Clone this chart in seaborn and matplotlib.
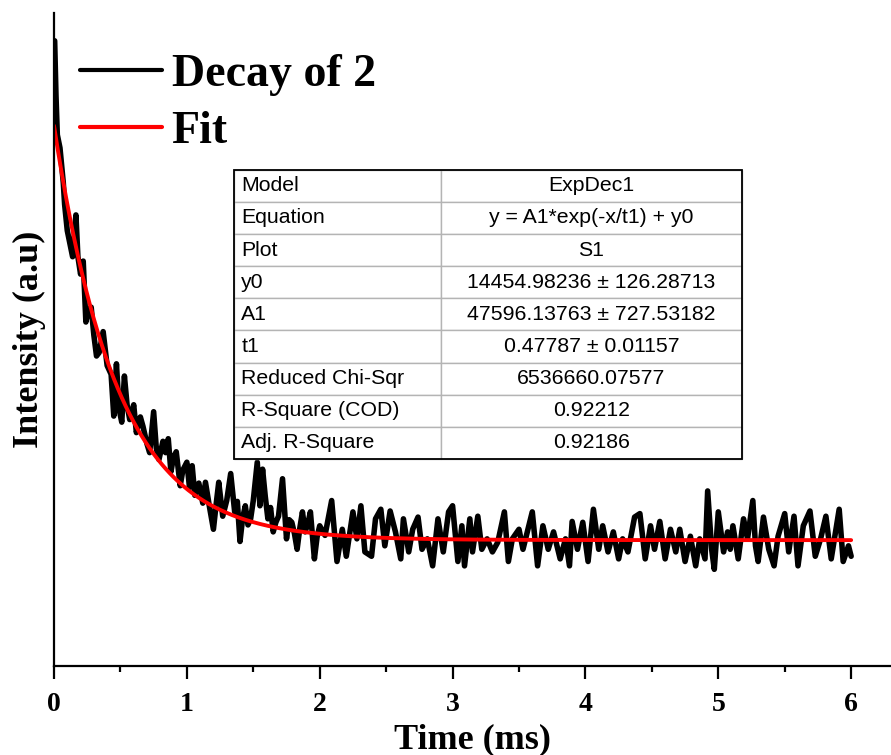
import numpy as np
import pandas as pd
import seaborn as sns
import matplotlib.pyplot as plt
from matplotlib.patches import Rectangle
from matplotlib.ticker import MultipleLocator

# Measured luminescence decay (time in ms, intensity in arbitrary units)
time_ms = [
    0.005, 0.015, 0.025, 0.045, 0.07, 0.08, 0.10, 0.12, 0.14, 0.165, 0.18, 0.20,
    0.22, 0.24, 0.26, 0.28, 0.30, 0.32, 0.34, 0.37, 0.40, 0.43, 0.45, 0.47, 0.49,
    0.51, 0.53, 0.55, 0.57, 0.60, 0.62, 0.65, 0.67, 0.70, 0.72, 0.75, 0.77, 0.79,
    0.82, 0.84, 0.86, 0.88, 0.90, 0.92, 0.95, 0.97, 1.00,
    1.02, 1.04, 1.06, 1.09, 1.12, 1.14, 1.17, 1.20, 1.22, 1.24, 1.27, 1.30, 1.33,
    1.36, 1.38, 1.40, 1.42, 1.44, 1.46, 1.48, 1.50, 1.53, 1.55, 1.57, 1.59, 1.61,
    1.63, 1.65, 1.67, 1.69, 1.72, 1.75, 1.77, 1.79, 1.81, 1.83, 1.85, 1.87, 1.89,
    1.91, 1.93, 1.96, 1.98, 2.00,
    2.04, 2.09, 2.13, 2.17, 2.20, 2.25, 2.28, 2.31, 2.34, 2.39, 2.42, 2.46, 2.49,
    2.53, 2.57, 2.61, 2.63, 2.67, 2.70, 2.74, 2.77, 2.81, 2.85, 2.89, 2.93, 2.97,
    3.00, 3.04, 3.07, 3.09, 3.13, 3.15, 3.19, 3.22, 3.26, 3.30, 3.34, 3.39, 3.42,
    3.45, 3.50, 3.53, 3.60, 3.64, 3.68, 3.72, 3.76, 3.81, 3.85, 3.88, 3.90, 3.94,
    3.98, 4.02, 4.06, 4.10, 4.13, 4.17, 4.21, 4.25, 4.28, 4.32, 4.37, 4.41, 4.45,
    4.49, 4.52, 4.56, 4.60, 4.64, 4.68, 4.71, 4.75, 4.79, 4.83, 4.86, 4.90, 4.92,
    4.95, 4.97, 5.00, 5.04, 5.07, 5.09, 5.11, 5.15, 5.19, 5.22, 5.26, 5.28, 5.30,
    5.34, 5.38, 5.42, 5.45, 5.50, 5.53, 5.57, 5.60, 5.64, 5.69, 5.73, 5.77, 5.81,
    5.85, 5.89, 5.91, 5.94, 5.98, 6.00,
]
intensity = [
    71800, 65500, 61000, 59500, 55500, 53000, 50000, 48500, 47000, 51800, 47000, 45000,
    46500, 39500, 41000, 41200, 38000, 35600, 36000, 38400, 34500, 33500, 28700, 34700, 29500,
    28000, 33300, 30000, 28300, 30000, 26800, 28600, 27500, 25500, 24500, 29200, 25000, 23700,
    25800, 24500, 26100, 22300, 24000, 24600, 20700, 22500, 23400,
    20500, 23000, 19600, 21000, 18700, 21100, 18300, 15700, 18500, 21100, 17200, 19000, 22100,
    17700, 18900, 14300, 17000, 18400, 16200, 16900, 19000, 23400, 18400, 22600, 19500, 16900,
    18200, 15400, 16500, 17200, 21500, 14600, 16800, 16500, 15200, 13400, 15800, 17700, 15400,
    16300, 17700, 12300, 14800, 16100,
    15000, 19000, 12000, 15700, 12600, 17700, 14600, 18400, 13100, 12600, 16900, 18000, 13800,
    17800, 15400, 12300, 16900, 13100, 15700, 17100, 13400, 14600, 11500, 16900, 13100, 17700,
    18400, 12000, 16100, 11500, 16900, 13100, 17200, 13400, 14600, 13100, 14200, 17700, 12000,
    14600, 15700, 13400, 17700, 11500, 16100, 13400, 15400, 12300, 14600, 11500, 16600, 13400,
    16500, 12000, 18000, 13400, 16100, 13100, 15400, 12300, 14600, 13100, 17100, 17500, 12300,
    16100, 13400, 16600, 12300, 15700, 13100, 15700, 12000, 14900, 11500, 14600, 12300, 20100,
    13400, 11100, 17700, 13100, 15400, 13400, 16100, 12300, 16900, 14600, 19000, 13800, 12000,
    17100, 13400, 11500, 14900, 17500, 13100, 17200, 11500, 16100, 17800, 12600, 14600, 17200,
    12300, 16100, 18000, 12000, 13800, 12600,
]

# ExpDec1 fit parameters
Y0 = 14454.98236
A1 = 47596.13763
T1 = 0.47787

table_labels = ["Model", "Equation", "Plot", "y0", "A1", "t1",
                "Reduced Chi-Sqr", "R-Square (COD)", "Adj. R-Square"]
table_values = ["ExpDec1", "y = A1*exp(-x/t1) + y0", "S1",
                "14454.98236 \u00b1 126.28713", "47596.13763 \u00b1 727.53182",
                "0.47787 \u00b1 0.01157", "6536660.07577", "0.92212", "0.92186"]

sns.set_style("ticks")
plt.rcParams['font.family'] = ['Liberation Serif', 'DejaVu Serif']
plt.rcParams['text.color'] = 'black'
plt.rcParams['axes.labelcolor'] = 'black'
plt.rcParams['xtick.color'] = 'black'
plt.rcParams['ytick.color'] = 'black'

fig = plt.figure(figsize=(8.91, 7.55), dpi=100)
ax = fig.add_axes([0.0606, 0.1179, 0.9394, 0.865])

data = pd.DataFrame({"t": time_ms, "I": intensity})
t_fit = np.linspace(0, 6, 601)
fit = pd.DataFrame({"t": t_fit, "I": Y0 + A1 * np.exp(-t_fit / T1)})

sns.lineplot(data=data, x="t", y="I", color="black", lw=4.0, estimator=None,
             sort=False, ax=ax, label="Decay of 2")
sns.lineplot(data=fit, x="t", y="I", color="#ff0000", lw=2.8, estimator=None,
             sort=False, ax=ax, label="Fit")

ax.set_xlim(0, 6.3)
ax.set_ylim(0, 75000)
ax.set_yticks([])
ax.xaxis.set_major_locator(MultipleLocator(1))
ax.xaxis.set_minor_locator(MultipleLocator(0.5))
ax.tick_params(axis="x", which="major", direction="out", length=9, width=1.6,
               labelsize=20, pad=10, colors="black")
ax.tick_params(axis="x", which="minor", direction="out", length=4.5, width=1.6)
for lab in ax.get_xticklabels():
    lab.set_fontweight("bold")

for side in ("top", "right"):
    ax.spines[side].set_visible(False)
for side in ("left", "bottom"):
    ax.spines[side].set_linewidth(1.6)
    ax.spines[side].set_color("black")

ax.set_xlabel("Time (ms)", fontsize=26, fontweight="bold", labelpad=4)
ax.set_ylabel("Intensity (a.u)", fontsize=26, fontweight="bold", labelpad=6)

leg = ax.legend(loc="upper left", bbox_to_anchor=(0.031, 0.937), frameon=False,
                prop={"family": "Liberation Serif", "weight": "bold", "size": 33},
                handlelength=1.8, handletextpad=0.2, labelspacing=0.32,
                borderpad=0, borderaxespad=0)
for h in leg.get_lines():
    h.set_linewidth(3.0)
for txt in leg.get_texts():
    txt.set_color("black")

# Fit summary table
cells = [[a, b] for a, b in zip(table_labels, table_values)]
tbl = ax.table(cellText=cells, colWidths=[0.407, 0.593], cellLoc="center",
               bbox=[0.215, 0.317, 0.607, 0.443], zorder=5)
tbl.auto_set_font_size(False)
tbl.set_fontsize(15.3)
for (r, c), cell in tbl.get_celld().items():
    cell.set_edgecolor("#b4b4b4")
    cell.set_linewidth(1.0)
    cell.set_facecolor("white")
    txt = cell.get_text()
    txt.set_fontfamily("Liberation Sans")
    txt.set_color("black")
    if c == 0:
        cell.PAD = 0.035
        txt.set_horizontalalignment("left")
        cell._loc = "left"
ax.add_patch(Rectangle((0.215, 0.317), 0.607, 0.443, transform=ax.transAxes,
                       fill=False, edgecolor="black", lw=1.3, zorder=6))

fig.savefig("out.png", dpi=100)
